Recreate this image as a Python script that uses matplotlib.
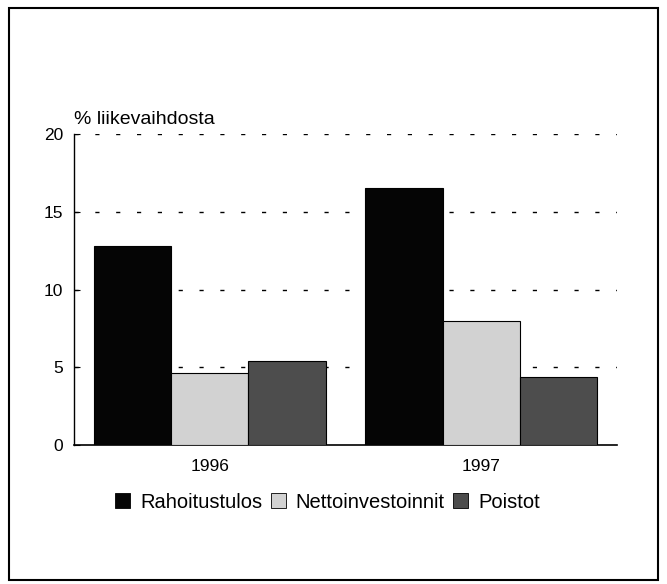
import matplotlib.pyplot as plt
from matplotlib.patches import Rectangle, Patch
import numpy as np

plt.rcParams['font.family'] = ['Liberation Sans', 'DejaVu Sans']

# data
years = ['1996', '1997']
series = ['Rahoitustulos', 'Nettoinvestoinnit', 'Poistot']
rahoitustulos = [12.8, 16.5]
nettoinvestoinnit = [4.6, 8.0]
poistot = [5.4, 4.4]
values = [rahoitustulos, nettoinvestoinnit, poistot]

colors = ['#050505', '#d2d2d2', '#4d4d4d']

fig = plt.figure(figsize=(6.67, 5.84), dpi=100)
ax = fig.add_axes([0.111, 0.238, 0.814, 0.5325])

x = np.arange(len(years))
w = 0.285
for i, vals in enumerate(values):
    ax.bar(x + (i - 1) * w, vals, width=w, color=colors[i], edgecolor='black',
           linewidth=0.8, zorder=3, label=series[i])

ax.set_xlim(-0.5, 1.5)
ax.set_ylim(0, 20)
ax.set_yticks([0, 5, 10, 15, 20])
ax.set_xticks(x)
ax.set_xticklabels(years)
ax.tick_params(axis='y', direction='in', length=4, labelsize=12.5, pad=8)
ax.tick_params(axis='x', length=0, labelsize=12.5, pad=10)

for v in [5, 10, 15, 20]:
    ax.axhline(v, color='black', linewidth=1, linestyle=(0, (3, 12)), zorder=1)

ax.spines['top'].set_visible(False)
ax.spines['right'].set_visible(False)
ax.spines['left'].set_linewidth(1)
ax.spines['bottom'].set_linewidth(1.2)

ax.text(0.0, 1.02, '% liikevaihdosta', transform=ax.transAxes, fontsize=14,
        ha='left', va='bottom')

handles = [Patch(facecolor=colors[i], edgecolor='black', linewidth=0.6,
                 label=series[i]) for i in range(3)]
fig.legend(handles=handles, loc='center', bbox_to_anchor=(0.491, 0.14), ncol=3,
           frameon=False, fontsize=14.5, handlelength=0.75, handleheight=0.75,
           handletextpad=0.5, columnspacing=0.4)

# outer frame
fig.patches.append(Rectangle((0.014, 0.007), 0.972, 0.979, transform=fig.transFigure,
                             fill=False, edgecolor='black', linewidth=1.5))

plt.savefig('out.png', dpi=100)
